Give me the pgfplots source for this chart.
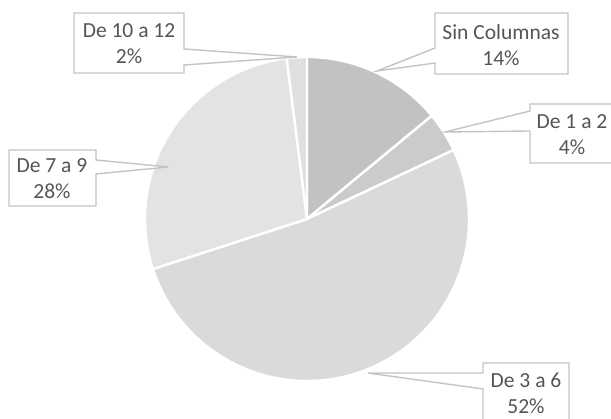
\documentclass[border=0pt]{standalone}
\usepackage{fontspec}
\setmainfont{Carlito}
\usepackage{pgfplots}
\pgfplotsset{compat=1.18}
\definecolor{cA}{HTML}{C2C2C2}
\definecolor{cB}{HTML}{CBCBCB}
\definecolor{cC}{HTML}{DADADA}
\definecolor{cD}{HTML}{E3E3E3}
\definecolor{cE}{HTML}{E0E0E0}
\definecolor{boxc}{HTML}{C4C4C4}
\definecolor{txt}{HTML}{555555}
\begin{document}
\begin{tikzpicture}
\begin{axis}[name=ax, x=1pt, y=1pt, xmin=0, xmax=611, ymin=0, ymax=419,
  y dir=reverse, hide axis, clip=false]
% cumulative shares (%): 14, 4, 52, 28, 2
\addplot[fill=cA, draw=white, line width=2.4pt, domain=0:14, samples=40, variable=\t]
  ({307+162*sin(3.6*\t)}, {219-162*cos(3.6*\t)}) -- (axis cs:307,219) -- cycle;
\addplot[fill=cB, draw=white, line width=2.4pt, domain=14:18, samples=20, variable=\t]
  ({307+162*sin(3.6*\t)}, {219-162*cos(3.6*\t)}) -- (axis cs:307,219) -- cycle;
\addplot[fill=cC, draw=white, line width=2.4pt, domain=18:70, samples=120, variable=\t]
  ({307+162*sin(3.6*\t)}, {219-162*cos(3.6*\t)}) -- (axis cs:307,219) -- cycle;
\addplot[fill=cD, draw=white, line width=2.4pt, domain=70:98, samples=80, variable=\t]
  ({307+162*sin(3.6*\t)}, {219-162*cos(3.6*\t)}) -- (axis cs:307,219) -- cycle;
\addplot[fill=cE, draw=white, line width=2.4pt, domain=98:100, samples=10, variable=\t]
  ({307+162*sin(3.6*\t)}, {219-162*cos(3.6*\t)}) -- (axis cs:307,219) -- cycle;
% callouts
\draw[boxc, line width=1.4pt, fill=white, line join=miter]
  (axis cs:435,13) -- (axis cs:568,13) -- (axis cs:568,74) -- (axis cs:435,74)
  -- (axis cs:435,63) -- (axis cs:377,71) -- (axis cs:435,48) -- cycle;
\draw[boxc, line width=1.4pt, fill=white]
  (axis cs:530,104) -- (axis cs:614,104) -- (axis cs:614,163) -- (axis cs:530,163)
  -- (axis cs:530,131) -- (axis cs:445,132) -- (axis cs:530,111) -- cycle;
\draw[boxc, line width=1.4pt, fill=white]
  (axis cs:483,363) -- (axis cs:569,363) -- (axis cs:569,425) -- (axis cs:483,425)
  -- (axis cs:483,389) -- (axis cs:368,373) -- (axis cs:483,373) -- cycle;
\draw[boxc, line width=1.4pt, fill=white]
  (axis cs:9,150) -- (axis cs:96,150) -- (axis cs:96,160) -- (axis cs:168,167)
  -- (axis cs:96,174) -- (axis cs:96,206) -- (axis cs:9,206) -- cycle;
\draw[boxc, line width=1.4pt, fill=white]
  (axis cs:74,13) -- (axis cs:184,13) -- (axis cs:184,49) -- (axis cs:297,57)
  -- (axis cs:184,65) -- (axis cs:184,73) -- (axis cs:74,73) -- cycle;
\tikzset{lab/.style={align=center, text=txt, font=\fontsize{21.5}{26}\selectfont, inner sep=0pt}}
\node[lab] at (axis cs:501,45) {Sin Columnas\\14\%};
\node[lab] at (axis cs:572,135) {De 1 a 2\\4\%};
\node[lab] at (axis cs:526,393) {De 3 a 6\\52\%};
\node[lab] at (axis cs:52,179) {De 7 a 9\\28\%};
\node[lab] at (axis cs:129,44) {De 10 a 12\\2\%};
\end{axis}
\pgfresetboundingbox
\path (ax.south west) rectangle (ax.north east);
\end{tikzpicture}
\end{document}
